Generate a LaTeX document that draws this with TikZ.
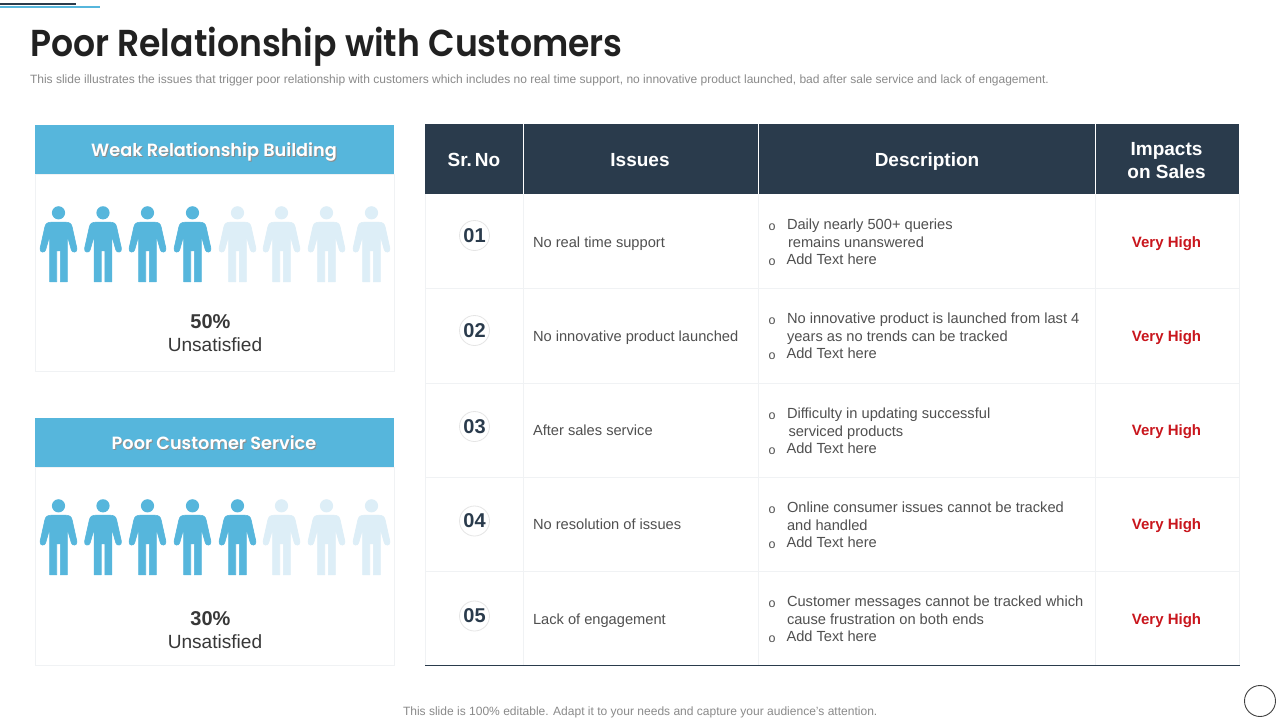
\documentclass[tikz,border=0pt]{standalone}
\usepackage{fontspec}
\setmainfont{Liberation Sans}
\newfontfamily\gothic[FakeStretch=0.923,BoldFont={Poppins SemiBold}]{Poppins}
\newfontfamily\gothicb[BoldFont={Poppins SemiBold}]{Poppins}
\definecolor{navy}{HTML}{2A3B4C}
\definecolor{sky}{HTML}{56B6DC}
\definecolor{pale}{HTML}{DDEEF7}
\definecolor{rulegray}{HTML}{F0F2F4}
\definecolor{bodygray}{HTML}{505050}
\definecolor{subgray}{HTML}{8A8A8A}
\definecolor{alarm}{HTML}{C9161D}
\newcommand{\fsz}[1]{\fontsize{#1}{#1}\selectfont}
\tikzset{
  x=1pt,y=-1pt,
  txt/.style={inner sep=0pt,outer sep=0pt,anchor=base west},
  ctr/.style={inner sep=0pt,outer sep=0pt,anchor=base,align=center},
  cell/.style={txt,text=bodygray,font=\fsz{14.65}},
  bullet/.style={txt,text=bodygray,font=\fsz{12.5}},
  head/.style={ctr,text=white,font=\bfseries\fsz{19}},
  rating/.style={ctr,text=alarm,font=\bfseries\fsz{15}},
  num/.style={circle,draw=black!10,line width=0.8pt,fill=white,minimum size=30pt,inner sep=0pt,text=navy,font=\bfseries\fsz{20}},
  band/.style={txt,anchor=base,text=white,font=\gothicb\bfseries\fsz{17.7}},
  bandshadow/.style={txt,anchor=base,text=black!45,font=\gothicb\bfseries\fsz{17.7}},
  card/.style={draw=rulegray,line width=1pt,fill=white},
  person/.pic={
    \fill (0,0) circle (6.6);
    \path[line width=0.6pt,line join=round,pic actions,draw=fillcolor]
      (-7,9.4) -- (7,9.4) .. controls (10.5,9.4) and (12.8,10.5) .. (13.6,14)
      -- (18.4,35.5) .. controls (19.4,40) and (13.4,40.5) .. (12.8,37)
      -- (9.4,25) -- (8.8,25) -- (8.8,69) -- (1.8,69) -- (1.8,38) -- (-1.8,38) -- (-1.8,69) -- (-8.8,69) -- (-8.8,25) -- (-9.4,25)
      -- (-12.8,37) .. controls (-13.4,40.5) and (-19.4,40) .. (-18.4,35.5)
      -- (-13.6,14) .. controls (-12.8,10.5) and (-10.5,9.4) .. (-7,9.4) -- cycle;
  }
}
\begin{document}
\begin{tikzpicture}
\useasboundingbox (0,0) rectangle (1280,720);
\fill[white] (0,0) rectangle (1280,720);
% top accent
\fill[navy] (0,3) rectangle (76,5);
\fill[sky] (0,6) rectangle (100,8);
% titles
\node[txt,text=black!87,font=\gothic\bfseries\fsz{37.5}] (title) at (30,56) {Poor Relationship with Customers};
\node[txt,text=subgray,font=\fsz{12.02}] (subtitle) at (30,83) {This slide illustrates the issues that trigger poor relationship with customers which includes no real time support, no innovative product launched, bad after sale service and lack of engagement.};
% left cards
\draw[card] (35.5,174) rectangle (394.5,371.5);
\fill[sky] (35,125) rectangle (394,174);
\node[bandshadow] (bandAs) at (215,157) {Weak Relationship Building};
\node[band] (bandA) at (214,156) {Weak Relationship Building};
\foreach \x/\c in {58.5/sky,103/sky,147.5/sky,192.5/sky,237.5/pale,281.5/pale,326.5/pale,371.5/pale}{
  \colorlet{fillcolor}{\c}
  \pic[fill=\c] at (\x,212.8) {person};
}
\node[ctr,text=black!78,font=\bfseries\fsz{20}] (pctA) at (210.5,328) {50\%};
\node[ctr,text=black!78,font=\fsz{19.1}] (labA) at (215,351) {Unsatisfied};
\draw[card] (35.5,467) rectangle (394.5,665.5);
\fill[sky] (35,418) rectangle (394,467);
\node[bandshadow] (bandBs) at (215,450) {Poor Customer Service};
\node[band] (bandB) at (214,449) {Poor Customer Service};
\foreach \x/\c in {58.5/sky,103/sky,147.5/sky,192.5/sky,237.5/sky,281.5/pale,326.5/pale,371.5/pale}{
  \colorlet{fillcolor}{\c}
  \pic[fill=\c] at (\x,505.8) {person};
}
\node[ctr,text=black!78,font=\bfseries\fsz{20}] (pctB) at (210.5,625) {30\%};
\node[ctr,text=black!78,font=\fsz{19.1}] (labB) at (215,648) {Unsatisfied};
% table grid
\foreach \y in {288.5,383,477,571}
  \draw[rulegray,line width=1pt] (425,\y) -- (1239,\y);
\foreach \x in {425,523.5,758,1095,1239}
  \draw[rulegray,line width=1pt] (\x,194) -- (\x,665);
\fill[navy] (425,124) rectangle (1239,194);
\foreach \x in {523.5,758,1095}
  \draw[white,line width=1pt] (\x,124) -- (\x,194);
\draw[navy,line width=1.2pt] (425,665.3) -- (1240,665.3);
% header
\node[head] (h1) at (474,166) {Sr.\hspace{3pt}No};
\node[head] (h2) at (640,166) {Issues};
\node[head] (h3) at (927,166) {Description};
\node[head] (h4) at (1166.5,155) {Impacts};
\node[head] (h5) at (1166.5,178) {on Sales};
% numbers
\foreach \n/\y in {01/235.5,02/330.5,03/426.5,04/521,05/616}
  \node[num] (n\n) at (474.5,\y) {\n};
% issues
\node[cell] (i1) at (533,247) {No real time support};
\node[cell] (i2) at (533,341) {No innovative product launched};
\node[cell] (i3) at (533,435) {After sales service};
\node[cell] (i4) at (533,529) {No resolution of issues};
\node[cell] (i5) at (533,624) {Lack of engagement};
% descriptions
\foreach \name/\t/\a/\b/\c/\xb in {
  d1/229/Daily nearly 500+ queries/remains unanswered/Add Text here/788,
  d2/323/No innovative product is launched from last 4/years as no trends can be tracked/Add Text here/787,
  d3/418/Difficulty in updating successful/serviced products/Add Text here/788.5,
  d4/512/Online consumer issues cannot be tracked/and handled/Add Text here/787,
  d5/606/Customer messages cannot be tracked which/cause frustration on both ends/Add Text here/787}{
  \node[bullet] (\name o) at (768.5,\t+1) {o};
  \node[cell] (\name a) at (787,\t) {\a};
  \node[cell] (\name b) at (\xb,\t+18) {\b};
  \node[bullet] (\name p) at (768.5,\t+36) {o};
  \node[cell] (\name c) at (786.5,\t+35) {\c};
}
% ratings
\foreach \n/\y in {1/247,2/341,3/435,4/529,5/624}
  \node[rating] (r\n) at (1166.5,\y) {Very High};
% footer
\node[txt,text=subgray,font=\fsz{12.03}] (foot) at (403,715) {This slide is 100\% editable. Adapt it to your needs and capture your audience's attention.};
\draw[black!75,line width=0.9pt] (1260,701) circle (15.5);
\end{tikzpicture}
\end{document}
